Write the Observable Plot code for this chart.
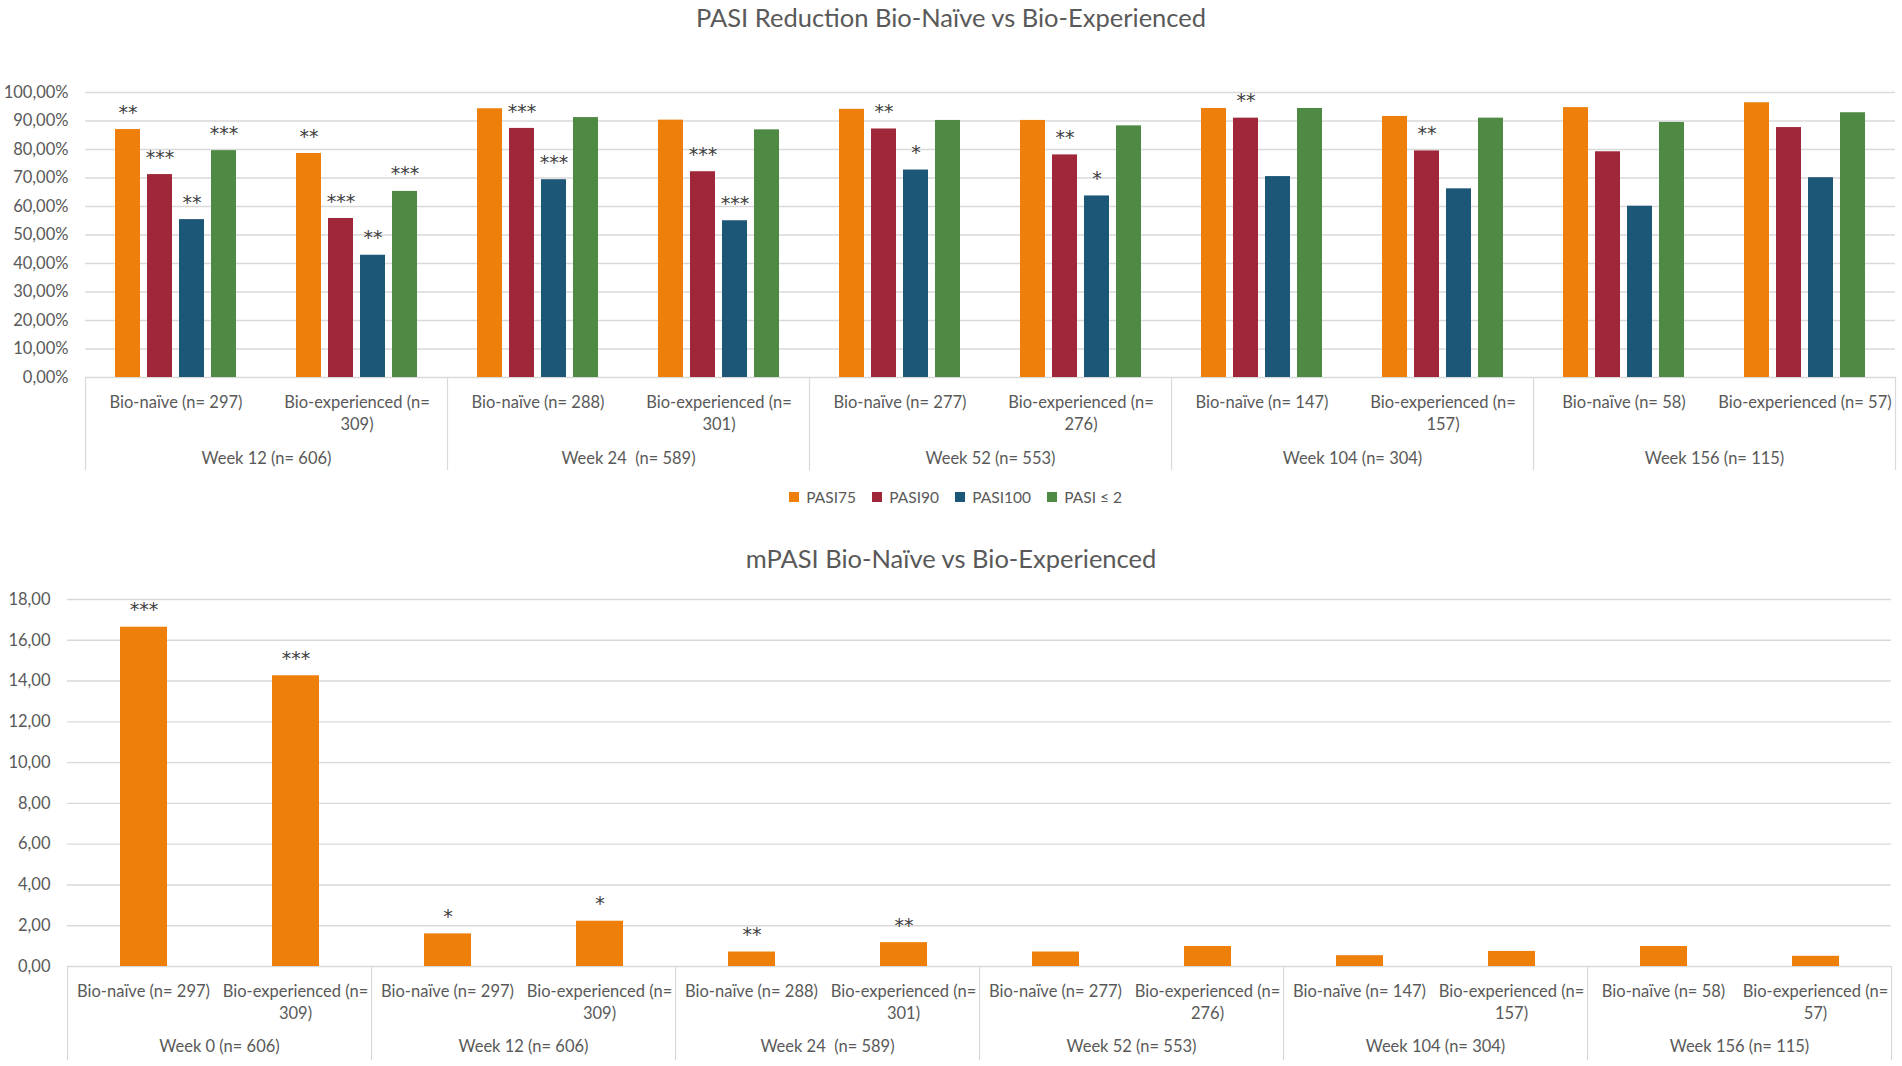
<!DOCTYPE html>
<html>
<head>
<meta charset="utf-8">
<script src="https://cdn.jsdelivr.net/npm/d3@7"></script>
<script src="https://cdn.jsdelivr.net/npm/@observablehq/plot@0.6"></script>
<style>
  html, body { margin: 0; padding: 0; background: #fff; }
  body { width: 1902px; height: 1066px; position: relative; overflow: hidden; font-family: Lato, "Open Sans", sans-serif; }
  .title { position: absolute; left: 0; width: 1902px; text-align: center; color: #595959; font-size: 25.5px; line-height: 1; }
  #chart1 { position: absolute; left: 0; top: 40px; }
  #chart2 { position: absolute; left: 0; top: 575px; }
  #legend { position: absolute; left: 12px; top: 480px; width: 1902px; }
  #legend > div { justify-content: center !important; margin: 0 !important; }
</style>
</head>
<body>
<div class="title" id="t1" style="top:5px">PASI Reduction Bio-Naïve vs Bio-Experienced</div>
<div id="chart1"></div>
<div id="legend"></div>
<div class="title" id="t2" style="top:546px">mPASI Bio-Naïve vs Bio-Experienced</div>
<div id="chart2"></div>
<script>
// ---------- data: top chart ----------
const weeksTop = ["Week 12 (n= 606)", "Week 24  (n= 589)", "Week 52 (n= 553)", "Week 104 (n= 304)", "Week 156 (n= 115)"];
const groupsTop = [
  "Bio-naïve (n= 297)", "Bio-experienced (n=\n309)",
  "Bio-naïve (n= 288)", "Bio-experienced (n=\n301)",
  "Bio-naïve (n= 277)", "Bio-experienced (n=\n276)",
  "Bio-naïve (n= 147)", "Bio-experienced (n=\n157)",
  "Bio-naïve (n= 58)", "Bio-experienced (n= 57)"
];
const series = ["PASI75", "PASI90", "PASI100", "PASI ≤ 2"];
const pasi75  = [87.0, 78.6, 94.3, 90.3, 94.1, 90.2, 94.4, 91.6, 94.7, 96.4];
const pasi90  = [71.2, 55.8, 87.4, 72.2, 87.2, 78.1, 91.0, 79.5, 79.2, 87.7];
const pasi100 = [55.4, 42.9, 69.4, 55.0, 72.8, 63.7, 70.5, 66.2, 60.1, 70.1];
const pasiLe2 = [79.6, 65.3, 91.2, 86.9, 90.2, 88.3, 94.4, 91.0, 89.5, 92.9];
const sig75  = ["**", "**", "", "", "", "", "", "", "", ""];
const sig90  = ["***", "***", "***", "***", "**", "**", "**", "**", "", ""];
const sig100 = ["**", "**", "***", "***", "*", "*", "", "", "", ""];
const sigLe2 = ["***", "***", "", "", "", "", "", "", "", ""];
const yTicksTop = [0, 10, 20, 30, 40, 50, 60, 70, 80, 90, 100];

// ---------- data: bottom chart ----------
const weeksBottom = ["Week 0 (n= 606)", "Week 12 (n= 606)", "Week 24  (n= 589)", "Week 52 (n= 553)", "Week 104 (n= 304)", "Week 156 (n= 115)"];
const groupsBottom = [
  "Bio-naïve (n= 297)", "Bio-experienced (n=\n309)",
  "Bio-naïve (n= 297)", "Bio-experienced (n=\n309)",
  "Bio-naïve (n= 288)", "Bio-experienced (n=\n301)",
  "Bio-naïve (n= 277)", "Bio-experienced (n=\n276)",
  "Bio-naïve (n= 147)", "Bio-experienced (n=\n157)",
  "Bio-naïve (n= 58)", "Bio-experienced (n=\n57)"
];
const mpasi = [16.64, 14.26, 1.60, 2.22, 0.71, 1.17, 0.71, 0.98, 0.53, 0.74, 0.98, 0.50];
const sigMpasi = ["***", "***", "*", "*", "**", "**", "", "", "", "", "", ""];
const yTicksBottom = [0, 2, 4, 6, 8, 10, 12, 14, 16, 18];

const colors = ["#EE7F0B", "#A02639", "#1C5778", "#4E8A43"];
const grid = "#d9d9d9";
const textColor = "#595959";
const font = "Lato, 'Open Sans', sans-serif";
const starFont = "'DejaVu Sans', sans-serif";
const labelSize = 16.5;
const starSize = 19;

// ---------- build rows ----------
const seriesValues = [pasi75, pasi90, pasi100, pasiLe2];
const seriesSig = [sig75, sig90, sig100, sigLe2];
const rowsTop = [];
groupsTop.forEach((g, k) => {
  series.forEach((s, si) => {
    rowsTop.push({k, series: s, value: seriesValues[si][k], sig: seriesSig[si][k]});
  });
});
const weekRowsTop = weeksTop.map((w, i) => ({k: i * 2, label: w}));

const rowsBottom = mpasi.map((v, k) => ({k, series: "mPASI", value: v, sig: sigMpasi[k]}));
const weekRowsBottom = weeksBottom.map((w, i) => ({k: i * 2, label: w}));

const fmtPct = d => d.toFixed(2).replace(".", ",") + "%";
const fmtNum = d => d.toFixed(2).replace(".", ",");

function separators(nWeeks, plotH, below) {
  const marks = [];
  for (let i = 0; i < nWeeks; i++) {
    marks.push(Plot.frame({anchor: "left", fx: () => i * 2, stroke: grid, strokeWidth: 1.2, insetTop: plotH, insetBottom: -below}));
  }
  marks.push(Plot.frame({anchor: "right", fx: () => nWeeks * 2 - 1, stroke: grid, strokeWidth: 1.2, insetTop: plotH, insetBottom: -below}));
  return marks;
}

// ---------- top chart ----------
const H1 = 440, mT1 = 52, mB1 = 103;
const chart1 = Plot.plot({
  width: 1902, height: H1,
  marginLeft: 85, marginRight: 7, marginTop: mT1, marginBottom: mB1,
  style: {fontFamily: font, color: textColor, background: "transparent"},
  fx: {domain: d3.range(groupsTop.length), paddingInner: 0, paddingOuter: 0, axis: null},
  x: {domain: series, paddingInner: 0.21, paddingOuter: 0.85, axis: null},
  y: {domain: [0, 100], axis: null},
  color: {domain: series, range: colors},
  marks: [
    Plot.gridY(yTicksTop.filter(d => d > 0), {stroke: grid, strokeOpacity: 1, strokeWidth: 1.4}),
    Plot.ruleY([0], {stroke: grid, strokeWidth: 1.6}),
    Plot.barY(rowsTop, {fx: "k", x: "series", y: "value", fill: "series"}),
    Plot.text(rowsTop.filter(d => d.sig), {fx: "k", x: "series", y: "value", text: "sig", dy: -17, lineAnchor: "middle", fontSize: starSize, fontFamily: starFont, fill: "#404040"}),
    Plot.axisY(yTicksTop, {tickSize: 0, tickPadding: 17, tickFormat: fmtPct, fontSize: labelSize, label: null, fill: textColor}),
    Plot.axisFx({anchor: "bottom", tickSize: 0, tickPadding: 15, tickFormat: k => groupsTop[k], fontSize: labelSize, lineHeight: 1.34, label: null, lineAnchor: "top", fill: textColor}),
    Plot.text(weekRowsTop, {fx: "k", frameAnchor: "bottom-right", text: "label", textAnchor: "middle", lineAnchor: "middle", dy: 81, fontSize: labelSize, fill: textColor}),
    ...separators(weeksTop.length, H1 - mT1 - mB1, 92)
  ]
});
document.getElementById("chart1").append(chart1);

// ---------- legend ----------
const legend = Plot.legend({
  color: {domain: series, range: colors},
  swatchSize: 10,
  style: {fontFamily: font, fontSize: "15.5px", color: textColor}
});
document.getElementById("legend").append(legend);

// ---------- bottom chart ----------
const H2 = 491, mT2 = 24, mB2 = 100;
const chart2 = Plot.plot({
  width: 1902, height: H2,
  marginLeft: 63, marginRight: 7, marginTop: mT2, marginBottom: mB2,
  style: {fontFamily: font, color: textColor, background: "transparent"},
  fx: {domain: d3.range(groupsBottom.length), paddingInner: 0, paddingOuter: 0, axis: null},
  x: {domain: ["mPASI"], padding: 0.53, axis: null},
  y: {domain: [0, 18], axis: null},
  marks: [
    Plot.gridY(yTicksBottom.filter(d => d > 0), {stroke: grid, strokeOpacity: 1, strokeWidth: 1.4}),
    Plot.ruleY([0], {stroke: grid, strokeWidth: 1.6}),
    Plot.barY(rowsBottom, {fx: "k", x: "series", y: "value", fill: colors[0]}),
    Plot.text(rowsBottom.filter(d => d.sig), {fx: "k", x: "series", y: "value", text: "sig", dy: -17, lineAnchor: "middle", fontSize: starSize, fontFamily: starFont, fill: "#404040"}),
    Plot.axisY(yTicksBottom, {tickSize: 0, tickPadding: 17, tickFormat: fmtNum, fontSize: labelSize, label: null, fill: textColor}),
    Plot.axisFx({anchor: "bottom", tickSize: 0, tickPadding: 15, tickFormat: k => groupsBottom[k], fontSize: labelSize, lineHeight: 1.34, label: null, lineAnchor: "top", fill: textColor}),
    Plot.text(weekRowsBottom, {fx: "k", frameAnchor: "bottom-right", text: "label", textAnchor: "middle", lineAnchor: "middle", dy: 80, fontSize: labelSize, fill: textColor}),
    ...separators(weeksBottom.length, H2 - mT2 - mB2, 93)
  ]
});
document.getElementById("chart2").append(chart2);
</script>
</body>
</html>
